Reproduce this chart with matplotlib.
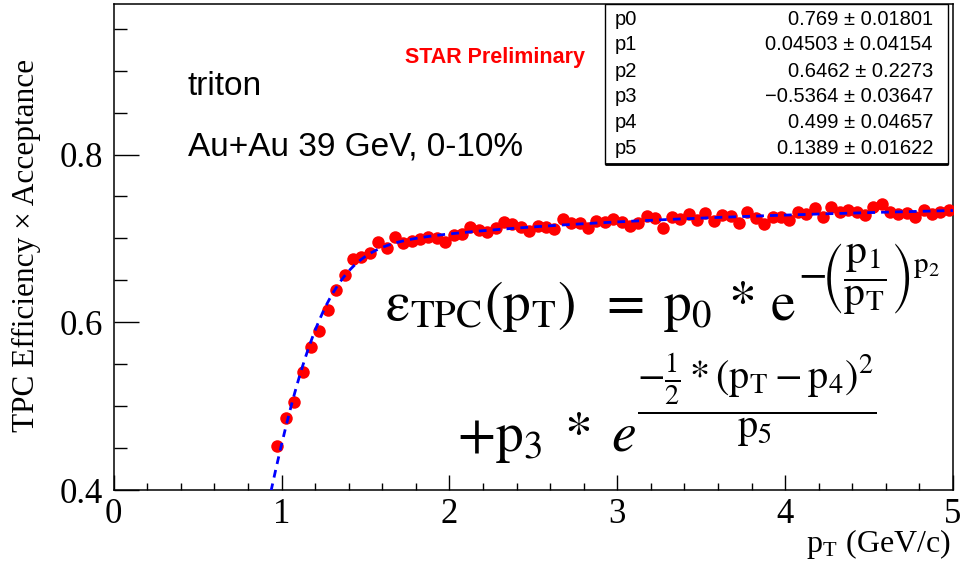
import numpy as np
import matplotlib
matplotlib.use("Agg")
import matplotlib.pyplot as plt
from matplotlib.patches import Rectangle
from matplotlib.ticker import MultipleLocator

plt.rcParams['mathtext.fontset'] = 'stix'

# pT bin centres (GeV/c) and measured efficiency x acceptance
pt_first, pt_step, n_bins = 0.975, 0.05, 81
eff = [0.452, 0.486, 0.505, 0.541, 0.570, 0.590, 0.615, 0.638, 0.656, 0.675,
       0.678, 0.683, 0.696, 0.688, 0.702, 0.695, 0.697, 0.699, 0.702, 0.701,
       0.696, 0.704, 0.705, 0.714, 0.710, 0.708, 0.712, 0.720, 0.717, 0.713,
       0.709, 0.715, 0.714, 0.711, 0.723, 0.718, 0.718, 0.712, 0.721, 0.720,
       0.723, 0.719, 0.715, 0.718, 0.727, 0.724, 0.712, 0.725, 0.723, 0.729,
       0.722, 0.730, 0.721, 0.728, 0.727, 0.718, 0.731, 0.724, 0.717, 0.726,
       0.726, 0.722, 0.732, 0.729, 0.736, 0.726, 0.738, 0.732, 0.734, 0.731,
       0.728, 0.738, 0.741, 0.731, 0.729, 0.730, 0.726, 0.734, 0.729, 0.732,
       0.734]

# fit parameters and their errors
par_names = ['p0', 'p1', 'p2', 'p3', 'p4', 'p5']
par_vals = [0.769, 0.04503, 0.6462, -0.5364, 0.499, 0.1389]
par_errs = [0.01801, 0.04154, 0.2273, 0.03647, 0.04657, 0.01622]
par_text = ['0.769', '0.04503', '0.6462', '\u22120.5364', '0.499', '0.1389']
err_text = ['0.01801', '0.04154', '0.2273', '0.03647', '0.04657', '0.01622']


def eff_func(pt, p):
    return (p[0] * np.exp(-(p[1] / pt) ** p[2])
            + p[3] * np.exp(-0.5 * (pt - p[4]) ** 2 / p[5]))


pt = pt_first + pt_step * np.arange(n_bins)

fig = plt.figure(figsize=(9.61, 5.69), dpi=100)
ax = fig.add_axes([0.1184, 0.1388, 0.8733, 0.855])

ax.plot(pt, eff, 'o', color='#ff0000', markersize=9, markeredgewidth=0, zorder=3)

pt_fit = np.linspace(0.85, 5.0, 400)
ax.plot(pt_fit, eff_func(pt_fit, par_vals), color='#0000ff', lw=2.0,
        dashes=(2.8, 2.2), zorder=4)

ax.set_xlim(0, 5)
ax.set_ylim(0.4, 0.98)
ax.xaxis.set_major_locator(MultipleLocator(1))
ax.xaxis.set_minor_locator(MultipleLocator(0.2))
ax.yaxis.set_major_locator(MultipleLocator(0.2))
ax.yaxis.set_minor_locator(MultipleLocator(0.05))
ax.tick_params(which='both', direction='in', top=False, right=False, width=1.0)
ax.tick_params(axis='y', which='major', length=18, pad=8)
ax.tick_params(axis='y', which='minor', length=9)
ax.tick_params(axis='x', which='major', length=10.5, pad=6)
ax.tick_params(axis='x', which='minor', length=5.3)
for lab in ax.get_xticklabels() + ax.get_yticklabels():
    lab.set_family('Liberation Serif')
    lab.set_fontsize(25)
for sp in ax.spines.values():
    sp.set_linewidth(1.1)

fig.text(0.028, 0.569, 'TPC Efficiency \u00d7 Acceptance', rotation=90,
         ha='center', va='center', family='Liberation Serif', fontsize=22.5)
fig.text(0.99, 0.03, r'p$_{\mathregular{T}}$ (GeV/c)', ha='right', va='baseline',
         family='Liberation Serif', fontsize=23)

# annotations
ax.text(0.0884, 0.812, 'triton', transform=ax.transAxes, family='Liberation Sans',
        fontsize=24, va='baseline')
ax.text(0.0884, 0.6886, 'Au+Au 39 GeV, 0-10%', transform=ax.transAxes,
        family='Liberation Sans', fontsize=24, va='baseline')
ax.text(0.5615, 0.8777, 'STAR Preliminary', transform=ax.transAxes,
        family='Liberation Sans', fontweight='bold', color='#ff0000',
        fontsize=15.5, ha='right', va='baseline')

# fit function, first term
line1 = ax.text(0.323, 0.3494,
                r'$\mathrm{ε}_{\mathrm{TPC}}(\mathrm{p_T})\;\;=\;\mathrm{p_0}\,*\,\mathrm{e}$',
                transform=ax.transAxes, fontsize=40, va='baseline')
# second term
line2 = ax.text(0.4088, 0.080, r'$+\mathrm{p_3}\;*\;e$', transform=ax.transAxes,
                fontsize=40, va='baseline')

fig.canvas.draw()
renderer = fig.canvas.get_renderer()
inv = ax.transAxes.inverted()
bb1 = line1.get_window_extent(renderer)
bb2 = line2.get_window_extent(renderer)
x1 = inv.transform((bb1.x1 + 2, 0))[0]
x2 = inv.transform((bb2.x1 + 1, 0))[0]

# exponents
ax.text(x1, 0.355,
        r'$-\!\left(\dfrac{\mathrm{p_1}}{\mathrm{p_T}}\right)^{\mathrm{p_2}}$',
        transform=ax.transAxes, fontsize=30, va='bottom')
ax.text(x2, 0.185,
        r'$\dfrac{-\frac{1}{2}*(\mathrm{p_T}-\mathrm{p_4})^2}{\mathrm{p_5}}$',
        transform=ax.transAxes, fontsize=29, va='center')

# stats box
box = Rectangle((0.5853, 0.670), 0.4087, 0.330, transform=ax.transAxes,
                facecolor='white', edgecolor='black', lw=1.0, zorder=5)
ax.add_patch(box)
ax.plot([0.5853, 0.9940], [0.670, 0.670], transform=ax.transAxes, color='black',
        lw=2.0, zorder=6, solid_capstyle='butt')
row_y = [0.968, 0.915, 0.861, 0.808, 0.755, 0.701]
for name, v, e, y in zip(par_names, par_text, err_text, row_y):
    ax.text(0.597, y, name, transform=ax.transAxes, family='Liberation Sans',
            fontsize=14.5, va='center', zorder=7)
    ax.text(0.976, y, f'{v} \u00b1 {e}', transform=ax.transAxes,
            family='Liberation Sans', fontsize=14.5, va='center', ha='right',
            zorder=7)

fig.savefig('out.png', dpi=100)
